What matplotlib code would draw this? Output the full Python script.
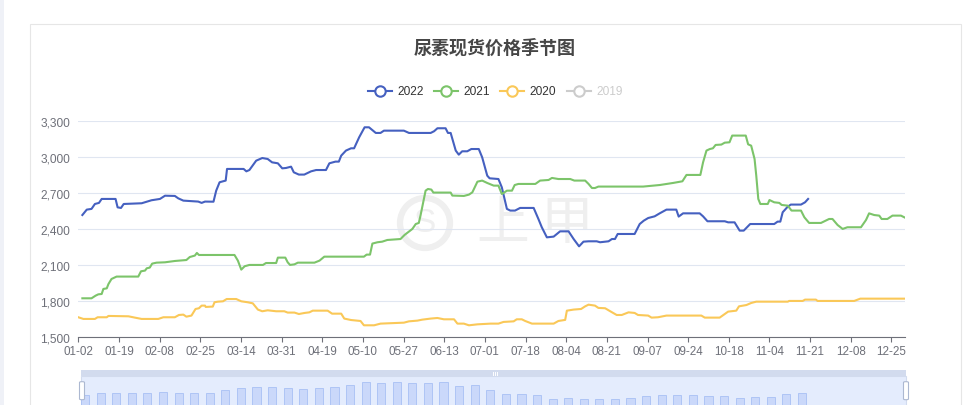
import numpy as np
import matplotlib
matplotlib.use('Agg')
import matplotlib.pyplot as plt
from matplotlib.patches import Rectangle, Circle, FancyBboxPatch
from matplotlib.lines import Line2D
from matplotlib.ticker import FuncFormatter
from matplotlib.transforms import IdentityTransform

plt.rcParams['font.family'] = ['Liberation Sans', 'Noto Sans CJK SC', 'DejaVu Sans']

# ---------------- data ----------------
title = '尿素现货价格季节图'
legend_labels = ['2022', '2021', '2020', '2019']
colors = ['#4560c0', '#7cc46a', '#fac858', '#cccccc']
tick_labels = ['01-02', '01-19', '02-08', '02-25', '03-14', '03-31', '04-19', '05-10',
               '05-27', '06-13', '07-01', '07-18', '08-04', '08-21', '09-07', '09-24',
               '10-18', '11-04', '11-21', '12-08', '12-25']
n_categories = 245
tick_step = 12
y_ticks = [1500, 1800, 2100, 2400, 2700, 3000, 3300]

# (category index, price)
s2022 = [(1.2, 2519), (2.5, 2564), (3.9, 2570), (4.9, 2611), (6.1, 2620), (6.9, 2653), (11.0, 2653),
         (11.6, 2583), (12.6, 2578), (13.4, 2611), (18.7, 2617), (21.6, 2642), (24.1, 2653), (25.6, 2680),
         (28.5, 2678), (29.5, 2658), (31.0, 2639), (35.4, 2631), (36.4, 2620), (37.4, 2631), (39.9, 2630),
         (40.7, 2722), (41.7, 2792), (43.5, 2806), (43.9, 2903), (48.8, 2903), (49.6, 2883), (50.5, 2894),
         (52.5, 2972), (54.3, 2994), (55.9, 2986), (57.2, 2958), (58.9, 2950), (60.2, 2908), (61.3, 2911),
         (62.8, 2922), (63.6, 2875), (65.1, 2856), (66.7, 2856), (68.7, 2883), (70.2, 2894), (73.1, 2894),
         (74.1, 2950), (75.9, 2964), (76.9, 2964), (77.6, 3014), (79.0, 3056), (80.5, 3075), (81.4, 3075),
         (82.9, 3167), (84.5, 3250), (85.8, 3250), (87.8, 3203), (89.2, 3203), (90.2, 3222), (96.1, 3222),
         (97.6, 3203), (104.0, 3203), (105.0, 3217), (106.0, 3242), (108.4, 3242), (109.1, 3203),
         (109.9, 3203), (111.4, 3056), (112.3, 3022), (113.3, 3050), (114.8, 3050), (116.0, 3069),
         (118.2, 3069), (119.2, 3000), (120.7, 2847), (121.4, 2825), (124.0, 2819), (125.0, 2750),
         (126.5, 2570), (127.5, 2556), (128.9, 2556), (130.4, 2578), (134.4, 2578), (135.8, 2486),
         (136.8, 2417), (138.3, 2333), (140.3, 2339), (142.2, 2383), (144.7, 2383), (146.2, 2319),
         (147.8, 2258), (149.1, 2297), (150.6, 2300), (153.0, 2300), (154.0, 2292), (156.5, 2300),
         (157.5, 2319), (158.4, 2319), (159.2, 2361), (164.2, 2361), (165.7, 2444), (166.9, 2472),
         (168.2, 2494), (170.1, 2508), (171.6, 2533), (173.6, 2564), (176.5, 2564), (177.2, 2506),
         (178.5, 2533), (183.4, 2533), (184.4, 2508), (185.7, 2467), (190.8, 2467), (191.8, 2458),
         (193.7, 2458), (195.2, 2389), (196.4, 2389), (198.3, 2444), (205.4, 2444), (206.4, 2464),
         (207.2, 2464), (207.9, 2542), (209.4, 2589), (210.3, 2606), (213.3, 2606), (214.5, 2625),
         (215.4, 2653)]

s2021 = [(1.2, 1825), (3.9, 1825), (5.1, 1847), (5.9, 1858), (6.9, 1861), (7.4, 1903), (8.4, 1908),
         (8.9, 1944), (9.8, 1986), (11.3, 2006), (17.7, 2006), (18.5, 2050), (19.7, 2056), (20.2, 2075),
         (21.1, 2081), (21.8, 2114), (23.1, 2122), (25.6, 2125), (28.5, 2136), (31.9, 2144), (32.9, 2169),
         (34.4, 2181), (35.0, 2203), (35.6, 2186), (46.1, 2186), (47.1, 2139), (48.1, 2064), (49.1, 2092),
         (50.5, 2103), (54.5, 2103), (55.4, 2119), (58.4, 2119), (58.9, 2164), (61.1, 2164), (61.8, 2125),
         (62.5, 2103), (63.8, 2108), (64.8, 2122), (69.7, 2122), (71.2, 2139), (72.6, 2172), (84.3, 2172),
         (85.1, 2189), (86.1, 2189), (86.8, 2281), (88.3, 2292), (89.7, 2297), (91.2, 2311), (95.1, 2319),
         (96.3, 2353), (98.6, 2403), (99.6, 2444), (100.5, 2453), (101.0, 2514), (101.8, 2625),
         (102.5, 2722), (103.2, 2736), (104.2, 2731), (104.8, 2706), (109.9, 2706), (110.4, 2681),
         (113.8, 2678), (115.3, 2689), (116.3, 2708), (117.8, 2797), (119.2, 2806), (120.7, 2786),
         (122.6, 2764), (124.0, 2764), (125.0, 2694), (125.8, 2708), (126.5, 2722), (128.0, 2722),
         (128.8, 2769), (129.9, 2778), (134.9, 2778), (136.3, 2806), (138.8, 2811), (139.8, 2828),
         (141.7, 2819), (145.2, 2819), (146.4, 2806), (149.6, 2806), (150.6, 2778), (151.6, 2744),
         (152.5, 2744), (153.5, 2756), (166.7, 2756), (171.6, 2769), (175.5, 2786), (178.3, 2800),
         (179.5, 2853), (183.6, 2853), (184.4, 2958), (185.4, 3056), (186.4, 3069), (187.3, 3075),
         (188.1, 3103), (189.8, 3106), (190.8, 3122), (192.2, 3125), (193.0, 3181), (197.0, 3181),
         (197.7, 3108), (198.6, 3097), (199.6, 2986), (200.1, 2847), (200.7, 2653), (201.3, 2611),
         (203.5, 2611), (204.0, 2644), (205.4, 2625), (206.9, 2620), (207.6, 2603), (209.4, 2597),
         (210.5, 2556), (213.3, 2556), (214.3, 2500), (215.7, 2453), (219.2, 2453), (221.6, 2486),
         (222.6, 2486), (224.1, 2436), (225.6, 2403), (227.0, 2417), (231.0, 2417), (232.5, 2478),
         (233.4, 2533), (234.9, 2519), (236.4, 2514), (237.1, 2486), (238.8, 2486), (240.3, 2514),
         (242.8, 2514), (244.0, 2497)]

s2020 = [(0.0, 1667), (1.5, 1653), (4.9, 1653), (5.7, 1667), (8.4, 1667), (8.9, 1678), (14.8, 1675),
         (16.7, 1664), (18.7, 1653), (23.6, 1653), (25.1, 1667), (28.5, 1667), (29.7, 1686), (31.0, 1689),
         (31.9, 1672), (33.4, 1681), (34.6, 1736), (35.6, 1742), (36.4, 1764), (37.4, 1764), (37.6, 1753),
         (39.7, 1756), (40.2, 1792), (41.2, 1797), (42.7, 1800), (43.8, 1819), (46.6, 1819), (48.1, 1800),
         (50.0, 1792), (51.5, 1783), (53.0, 1731), (54.3, 1717), (55.9, 1725), (58.4, 1717), (60.8, 1717),
         (61.8, 1706), (63.8, 1706), (65.1, 1694), (66.8, 1703), (68.2, 1708), (69.2, 1722), (73.6, 1722),
         (74.9, 1697), (77.6, 1697), (78.5, 1656), (80.5, 1644), (83.3, 1636), (84.3, 1600), (87.3, 1600),
         (89.2, 1614), (96.1, 1622), (97.6, 1633), (100.1, 1639), (101.5, 1647), (104.0, 1656),
         (106.0, 1661), (107.9, 1650), (110.9, 1650), (111.9, 1614), (113.8, 1614), (115.3, 1600),
         (117.8, 1608), (121.7, 1614), (124.0, 1614), (125.5, 1628), (128.5, 1633), (129.4, 1650),
         (130.9, 1650), (131.9, 1636), (133.9, 1614), (140.3, 1614), (141.7, 1636), (143.7, 1645),
         (144.2, 1722), (146.2, 1731), (148.4, 1736), (149.6, 1758), (150.6, 1772), (152.5, 1764),
         (153.5, 1745), (155.5, 1742), (157.0, 1717), (158.9, 1686), (160.4, 1686), (162.4, 1708),
         (164.2, 1703), (165.2, 1686), (168.2, 1681), (169.2, 1664), (171.1, 1667), (173.6, 1681),
         (183.9, 1681), (184.9, 1664), (189.3, 1664), (190.8, 1694), (191.8, 1714), (194.2, 1722),
         (195.0, 1758), (197.2, 1769), (198.6, 1786), (200.1, 1797), (209.4, 1797), (209.8, 1803),
         (213.8, 1803), (214.5, 1814), (217.7, 1814), (218.2, 1803), (229.0, 1803), (230.8, 1822),
         (244.0, 1822)]

series = [s2022, s2021, s2020]

# ---------------- figure ----------------
W, H = 980, 406
fig = plt.figure(figsize=(W / 100, H / 100), dpi=100)
fig.patch.set_facecolor('white')


def fx(px):
    return px / W


def fy(py):
    return 1 - py / H


# page background / card
fig.add_artist(Rectangle((0, 0), fx(4), 1, transform=fig.transFigure, color='#eff1f7', lw=0, zorder=-5))
fig.add_artist(Rectangle((fx(29.5), fy(430)), fx(960.5) - fx(29.5), fy(24.5) - fy(430),
                         transform=fig.transFigure, fill=False, edgecolor='#e6e6e6', lw=0.8, zorder=-4))

# watermark
fig.add_artist(Circle((425, H - 224), 25, transform=IdentityTransform(), fill=False,
                      edgecolor='#efefef', lw=4.5, zorder=-3))
fig.text(fx(425), fy(224), 'S', ha='center', va='center', fontsize=24, color='#efefef', zorder=-3)
fig.text(fx(503), fy(224), '上', ha='center', va='center', fontsize=38, color='#efefef',
         family=['Noto Sans CJK SC'], zorder=-3)
fig.text(fx(567), fy(224), '甲', ha='center', va='center', fontsize=38, color='#efefef',
         family=['Noto Sans CJK SC'], zorder=-3)

# main axes
ax = fig.add_axes([fx(78.3), fy(338.3), (905 - 78.3) / W, (338.3 - 122.3) / H])
ax.patch.set_visible(False)
for s, c in zip(series, colors):
    xs = [p[0] for p in s]
    ys = [p[1] for p in s]
    ax.plot(xs, ys, color=c, lw=1.5, solid_joinstyle='round', zorder=3)

ax.set_xlim(0, n_categories - 1)
ax.set_ylim(y_ticks[0], y_ticks[-1])
ax.set_yticks(y_ticks)
ax.yaxis.set_major_formatter(FuncFormatter(lambda v, p: f'{int(v):,}'))
ax.set_xticks(np.arange(len(tick_labels)) * tick_step)
ax.set_xticklabels(tick_labels)
ax.yaxis.grid(True, color='#e0e6f1', lw=0.8)
ax.set_axisbelow(True)
for sp in ['top', 'right', 'left']:
    ax.spines[sp].set_visible(False)
ax.spines['bottom'].set_color('#6e7079')
ax.spines['bottom'].set_linewidth(0.8)
ax.tick_params(axis='y', length=0, pad=6, labelsize=8.6, labelcolor='#6e7079')
ax.tick_params(axis='x', length=3.6, width=0.8, color='#6e7079', labelsize=8.4,
               labelcolor='#6e7079', pad=2)

# title
fig.text(fx(495), fy(48), title, ha='center', va='center', fontsize=13, fontweight='bold',
         color='#464646', family=['Noto Sans CJK SC'])

# legend
icon_cx = [380, 446, 512, 579]
ly = fy(91.7)
for lab, c, cx in zip(legend_labels, colors, icon_cx):
    fig.add_artist(Line2D([fx(cx - 12), fx(cx + 12)], [ly, ly], transform=fig.transFigure,
                          color=c, lw=1.5))
    fig.add_artist(Line2D([fx(cx)], [ly], transform=fig.transFigure, marker='o', markersize=7.5,
                          mfc='white', mec=c, mew=1.5, lw=0))
    fig.text(fx(cx + 17), ly, lab, ha='left', va='center', fontsize=8.6,
             color='#333333' if lab != '2019' else '#cccccc')

# data zoom slider
fig.add_artist(Rectangle((fx(81), fy(377.3)), fx(906) - fx(81), fy(370.7) - fy(377.3),
                         transform=fig.transFigure, color='#d2dbee', lw=0, zorder=1))
fig.add_artist(Rectangle((fx(81), fy(430)), fx(906) - fx(81), fy(377.3) - fy(430),
                         transform=fig.transFigure, facecolor='#e4ecfd', edgecolor='#d2dbee',
                         lw=0.8, zorder=1))
for gx in [492.5, 494.5, 496.5]:
    fig.add_artist(Line2D([fx(gx), fx(gx)], [fy(372.5), fy(375.5)], transform=fig.transFigure,
                          color='#ffffff', lw=0.7, zorder=2))

sax = fig.add_axes([fx(78.3), fy(430), (905 - 78.3) / W, (430 - 377.3) / H])
sax.set_zorder(2)
sax.patch.set_visible(False)
x22 = np.array([p[0] for p in s2022])
y22 = np.array([p[1] for p in s2022])
bar_pos = np.arange(2.0, x22[-1] + 0.5, 4.6)
bar_val = np.interp(bar_pos, x22, y22)
sax.bar(bar_pos, bar_val - 600, bottom=600, width=2.4, color='#cad8fa', edgecolor='#a8c0f5', lw=0.6)
sax.set_xlim(0, n_categories - 1)
sax.set_ylim(686, 3543)
sax.axis('off')

for hx in [82, 906]:
    fig.add_artist(FancyBboxPatch((fx(hx - 2.5), fy(400.7)), fx(5), fy(382.7) - fy(400.7),
                                  boxstyle='round,pad=0,rounding_size=0.002',
                                  transform=fig.transFigure, facecolor='white',
                                  edgecolor='#acb8d1', lw=0.8, zorder=5))

fig.savefig('out.png', dpi=100)
